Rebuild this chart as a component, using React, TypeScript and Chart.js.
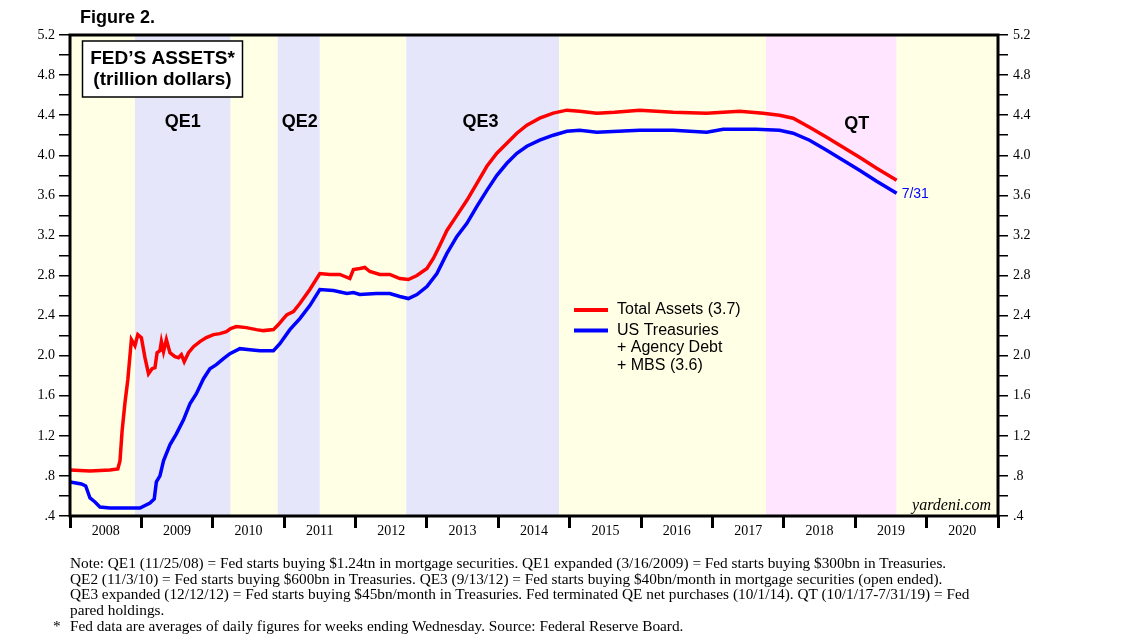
import React, { useEffect, useRef } from "react";
import { Chart, registerables } from "chart.js";

Chart.register(...registerables);

// ---- DATA ----
const totalDates = [
  2008.0, 2008.28, 2008.56, 2008.67, 2008.7, 2008.73, 2008.77, 2008.81, 2008.86, 2008.91,
  2008.95, 2009.0, 2009.05, 2009.1, 2009.15, 2009.19, 2009.22, 2009.26, 2009.28, 2009.31,
  2009.35, 2009.4, 2009.47, 2009.52, 2009.56, 2009.6, 2009.66, 2009.73, 2009.82, 2009.91,
  2010.01, 2010.1, 2010.19, 2010.25, 2010.33, 2010.47, 2010.61, 2010.71, 2010.85, 2010.92,
  2010.99, 2011.04, 2011.13, 2011.22, 2011.36, 2011.5, 2011.64, 2011.78, 2011.92, 2011.97,
  2012.06, 2012.13, 2012.2, 2012.34, 2012.48, 2012.62, 2012.74, 2012.86, 2013.0, 2013.09,
  2013.18, 2013.28, 2013.42, 2013.56, 2013.7, 2013.84, 2013.98, 2014.12, 2014.26, 2014.4,
  2014.58, 2014.77, 2014.96, 2015.14, 2015.38, 2015.63, 2015.98, 2016.45, 2016.92, 2017.38,
  2017.71, 2017.94, 2018.13, 2018.36, 2018.6, 2018.83, 2019.06, 2019.3, 2019.58,
];
const totalValues = [
  0.86, 0.85, 0.86, 0.87, 0.95, 1.25, 1.53, 1.76, 2.16, 2.1,
  2.21, 2.18, 1.98, 1.82, 1.87, 1.88, 2.03, 2.05, 2.14, 2.04,
  2.16, 2.03, 1.99, 1.98, 2.01, 1.94, 2.03, 2.09, 2.14, 2.18,
  2.21, 2.22, 2.24, 2.27, 2.29, 2.28, 2.26, 2.25, 2.26, 2.31,
  2.37, 2.41, 2.44, 2.52, 2.66, 2.82, 2.81, 2.81, 2.77, 2.86,
  2.87, 2.88, 2.84, 2.81, 2.81, 2.77, 2.76, 2.8, 2.87, 2.97,
  3.1, 3.25, 3.4, 3.55, 3.72, 3.89, 4.02, 4.12, 4.22, 4.3,
  4.37, 4.42, 4.45, 4.44, 4.42, 4.43, 4.45, 4.43, 4.42, 4.44,
  4.42, 4.4, 4.37, 4.28, 4.18, 4.08, 3.98, 3.87, 3.75,
];

const holdingsDates = [
  2008.0, 2008.16, 2008.22, 2008.28, 2008.35, 2008.42, 2008.56, 2008.98, 2009.12, 2009.18,
  2009.21, 2009.26, 2009.31, 2009.4, 2009.49, 2009.59, 2009.68, 2009.77, 2009.87, 2009.96,
  2010.05, 2010.15, 2010.24, 2010.38, 2010.52, 2010.66, 2010.85, 2010.94, 2011.08, 2011.22,
  2011.36, 2011.5, 2011.69, 2011.88, 2011.97, 2012.06, 2012.29, 2012.48, 2012.62, 2012.74,
  2012.86, 2013.0, 2013.14, 2013.28, 2013.42, 2013.56, 2013.7, 2013.84, 2013.98, 2014.12,
  2014.26, 2014.4, 2014.58, 2014.77, 2014.96, 2015.14, 2015.38, 2015.98, 2016.45, 2016.92,
  2017.15, 2017.61, 2017.94, 2018.13, 2018.36, 2018.6, 2018.83, 2019.06, 2019.3, 2019.58,
];
const holdingsValues = [
  0.74, 0.72, 0.7, 0.58, 0.54, 0.49, 0.48, 0.48, 0.53, 0.57,
  0.74, 0.8, 0.95, 1.11, 1.22, 1.36, 1.52, 1.62, 1.77, 1.87,
  1.91, 1.97, 2.02, 2.07, 2.06, 2.05, 2.05, 2.12, 2.26, 2.37,
  2.5, 2.66, 2.65, 2.62, 2.63, 2.61, 2.62, 2.62, 2.59, 2.57,
  2.61, 2.69, 2.82, 3.02, 3.19, 3.32, 3.49, 3.65, 3.8, 3.92,
  4.02, 4.09, 4.15, 4.2, 4.24, 4.25, 4.23, 4.25, 4.25, 4.23,
  4.26, 4.26, 4.25, 4.22, 4.15, 4.05, 3.95, 3.85, 3.74, 3.62,
];

const years = [2008, 2009, 2010, 2011, 2012, 2013, 2014, 2015, 2016, 2017, 2018, 2019, 2020];
const bandStarts = [2008, 2008.91, 2010.25, 2010.91, 2011.5, 2012.71, 2014.85, 2017.75, 2019.58];
const bandEnds = [2008.91, 2010.25, 2010.91, 2011.5, 2012.71, 2014.85, 2017.75, 2019.58, 2021];
const bandKinds = ["calm", "qe", "calm", "qe", "calm", "qe", "calm", "qt", "calm"];
const programNames = ["QE1", "QE2", "QE3", "QT"];
const programYears = [2009.58, 2011.22, 2013.75, 2019.02];

const totalLabel = "Total Assets (3.7)";
const holdingsLabel = ["US Treasuries", "+ Agency Debt", "+ MBS (3.6)"];
const lastDateLabel = "7/31";

const notes = [
  "Note: QE1 (11/25/08) = Fed starts buying $1.24tn in mortgage securities. QE1 expanded (3/16/2009) = Fed starts buying $300bn in Treasuries.",
  "QE2 (11/3/10) = Fed starts buying $600bn in Treasuries. QE3 (9/13/12) = Fed starts buying $40bn/month in mortgage securities (open ended).",
  "QE3 expanded (12/12/12) = Fed starts buying $45bn/month in Treasuries. Fed terminated QE net purchases (10/1/14). QT (10/1/17-7/31/19) = Fed",
  "pared holdings.",
];
const starNote = "Fed data are averages of daily figures for weeks ending Wednesday. Source: Federal Reserve Board.";

// ---- STYLE ----
const bandColors: Record<string, string> = {
  calm: "#FFFFE6",
  qe: "#E6E6FA",
  qt: "#FFE5FF",
};
const SANS = "'Liberation Sans', Arial, sans-serif";
const SERIF = "'Liberation Serif', 'Times New Roman', serif";

const yTickValues = Array.from({ length: 25 }, (_, i) => Math.round((4 + i * 2)) / 10);
const isMajorY = (v: number) => Math.round(v * 10) % 4 === 0;
const fmtY = (v: number) => (v < 1 ? "." + Math.round(v * 10) : v.toFixed(1));

const decorPlugin = {
  id: "decor",
  beforeDatasetsDraw(chart: any) {
    const { ctx, chartArea: a, scales } = chart;
    const x = scales.x;
    ctx.save();
    bandStarts.forEach((s, i) => {
      const x0 = x.getPixelForValue(s);
      const x1 = x.getPixelForValue(bandEnds[i]);
      ctx.fillStyle = bandColors[bandKinds[i]];
      ctx.fillRect(x0, a.top, x1 - x0, a.bottom - a.top);
    });
    ctx.restore();
  },
  afterDatasetsDraw(chart: any) {
    const { ctx, chartArea: a, scales } = chart;
    const x = scales.x;
    const y = scales.y;
    ctx.save();
    // frame
    ctx.strokeStyle = "#000";
    ctx.lineWidth = 3;
    ctx.strokeRect(a.left, a.top, a.right - a.left, a.bottom - a.top);

    // title box
    const bx = a.left + 12.5, by = a.top + 6, bw = 160, bh = 56;
    ctx.fillStyle = "#fff";
    ctx.fillRect(bx, by, bw, bh);
    ctx.lineWidth = 1.5;
    ctx.strokeRect(bx, by, bw, bh);
    ctx.fillStyle = "#000";
    ctx.textAlign = "center";
    ctx.textBaseline = "middle";
    ctx.font = `bold 19px ${SANS}`;
    ctx.fillText("FED\u2019S ASSETS*", bx + bw / 2, by + 18);
    ctx.fillText("(trillion dollars)", bx + bw / 2, by + 39);

    // program labels
    ctx.font = `bold 18px ${SANS}`;
    programNames.forEach((n, i) => {
      const px = x.getPixelForValue(programYears[i]);
      ctx.fillText(n, px, a.top + (n === "QT" ? 89.5 : 87));
    });

    // last date label
    const lx = x.getPixelForValue(holdingsDates[holdingsDates.length - 1]);
    const ly = y.getPixelForValue(holdingsValues[holdingsValues.length - 1]);
    ctx.fillStyle = "#0000FF";
    ctx.textAlign = "left";
    ctx.font = `14px ${SANS}`;
    ctx.fillText(lastDateLabel, lx + 5, ly + 1);

    // watermark
    ctx.fillStyle = "#000";
    ctx.textAlign = "right";
    ctx.textBaseline = "alphabetic";
    ctx.font = `italic 16px ${SERIF}`;
    ctx.fillText("yardeni.com", a.right - 7, a.bottom - 6);

    // legend
    const lgx = 574, lgy = 310;
    ctx.lineWidth = 4;
    ctx.strokeStyle = "#FF0000";
    ctx.beginPath();
    ctx.moveTo(lgx, lgy);
    ctx.lineTo(lgx + 34, lgy);
    ctx.stroke();
    ctx.strokeStyle = "#0000FF";
    ctx.beginPath();
    ctx.moveTo(lgx, lgy + 20.5);
    ctx.lineTo(lgx + 34, lgy + 20.5);
    ctx.stroke();
    ctx.fillStyle = "#000";
    ctx.textAlign = "left";
    ctx.textBaseline = "middle";
    ctx.font = `16px ${SANS}`;
    ctx.fillText(totalLabel, lgx + 43, lgy);
    holdingsLabel.forEach((t, i) => ctx.fillText(t, lgx + 43, lgy + 20.5 + i * 17.5));
    ctx.restore();
  },
};

export default function App() {
  const ref = useRef<HTMLCanvasElement | null>(null);

  useEffect(() => {
    if (!ref.current) return;
    const chart = new Chart(ref.current, {
      type: "line",
      data: {
        datasets: [
          {
            label: totalLabel,
            data: totalDates.map((d, i) => ({ x: d, y: totalValues[i] })),
            borderColor: "#FF0000",
            borderWidth: 3.5,
            pointRadius: 0,
            tension: 0,
          },
          {
            label: holdingsLabel.join(" "),
            data: holdingsDates.map((d, i) => ({ x: d, y: holdingsValues[i] })),
            borderColor: "#0000FF",
            borderWidth: 3.5,
            pointRadius: 0,
            tension: 0,
          },
        ],
      },
      options: {
        responsive: false,
        animation: false,
        layout: { padding: { top: 35, left: 0, right: 0, bottom: 0 } },
        plugins: { legend: { display: false }, tooltip: { enabled: false } },
        scales: {
          x: {
            type: "linear",
            min: 2008,
            max: 2021,
            afterBuildTicks: (s: any) => {
              const t: any[] = [];
              years.forEach((yr) => {
                t.push({ value: yr });
                t.push({ value: yr + 0.5 });
              });
              t.push({ value: 2021 });
              s.ticks = t;
            },
            afterFit: (s: any) => {
              s.height = 128;
            },
            ticks: {
              autoSkip: false,
              maxRotation: 0,
              padding: -5,
              color: "#000",
              font: { family: SERIF, size: 14 },
              callback: (v: any) => (Number.isInteger(v) ? "" : String(Math.floor(v))),
            },
            grid: {
              drawOnChartArea: false,
              tickLength: 12,
              lineWidth: 3,
              color: (c: any) =>
                c.tick && Number.isInteger(c.tick.value) ? "#000" : "rgba(0,0,0,0)",
            },
            border: { display: false },
          },
          y: {
            type: "linear",
            position: "left",
            min: 0.4,
            max: 5.2,
            afterBuildTicks: (s: any) => {
              s.ticks = yTickValues.map((v) => ({ value: v }));
            },
            afterFit: (s: any) => {
              s.width = 70;
            },
            ticks: {
              autoSkip: false,
              padding: 4,
              color: "#000",
              font: { family: SERIF, size: 14 },
              callback: (v: any) => (isMajorY(v) ? fmtY(v) : ""),
            },
            grid: { drawOnChartArea: false, tickLength: 11, lineWidth: 1.5, color: "#000" },
            border: { display: false },
          },
          y2: {
            type: "linear",
            position: "right",
            min: 0.4,
            max: 5.2,
            afterBuildTicks: (s: any) => {
              s.ticks = yTickValues.map((v) => ({ value: v }));
            },
            afterFit: (s: any) => {
              s.width = 140;
            },
            ticks: {
              autoSkip: false,
              padding: 5,
              color: "#000",
              font: { family: SERIF, size: 14 },
              callback: (v: any) => (isMajorY(v) ? fmtY(v) : ""),
            },
            grid: { drawOnChartArea: false, tickLength: 10, lineWidth: 1.5, color: "#000" },
            border: { display: false },
          },
        },
      },
      plugins: [decorPlugin],
    });
    return () => chart.destroy();
  }, []);

  const noteStyle: React.CSSProperties = {
    position: "absolute",
    left: 70,
    fontFamily: SERIF,
    fontSize: 15.3,
    lineHeight: "16px",
    whiteSpace: "nowrap",
    color: "#000",
  };

  return (
    <div style={{ position: "absolute", left: 0, top: 0, width: 1138, height: 644, background: "#fff" }}>
      <canvas ref={ref} width={1138} height={644} style={{ position: "absolute", left: 0, top: 0, width: 1138, height: 644 }} />
      <div
        style={{
          position: "absolute",
          left: 80,
          top: 6,
          fontFamily: SANS,
          fontWeight: "bold",
          fontSize: 18,
          lineHeight: "22px",
          color: "#000",
        }}
      >
        Figure 2.
      </div>
      {notes.map((n, i) => (
        <div key={i} style={{ ...noteStyle, top: 555 + i * 15.7 }}>
          {n}
        </div>
      ))}
      <div style={{ ...noteStyle, left: 53, top: 555 + 4 * 15.7 }}>*</div>
      <div style={{ ...noteStyle, top: 555 + 4 * 15.7 }}>{starNote}</div>
    </div>
  );
}
